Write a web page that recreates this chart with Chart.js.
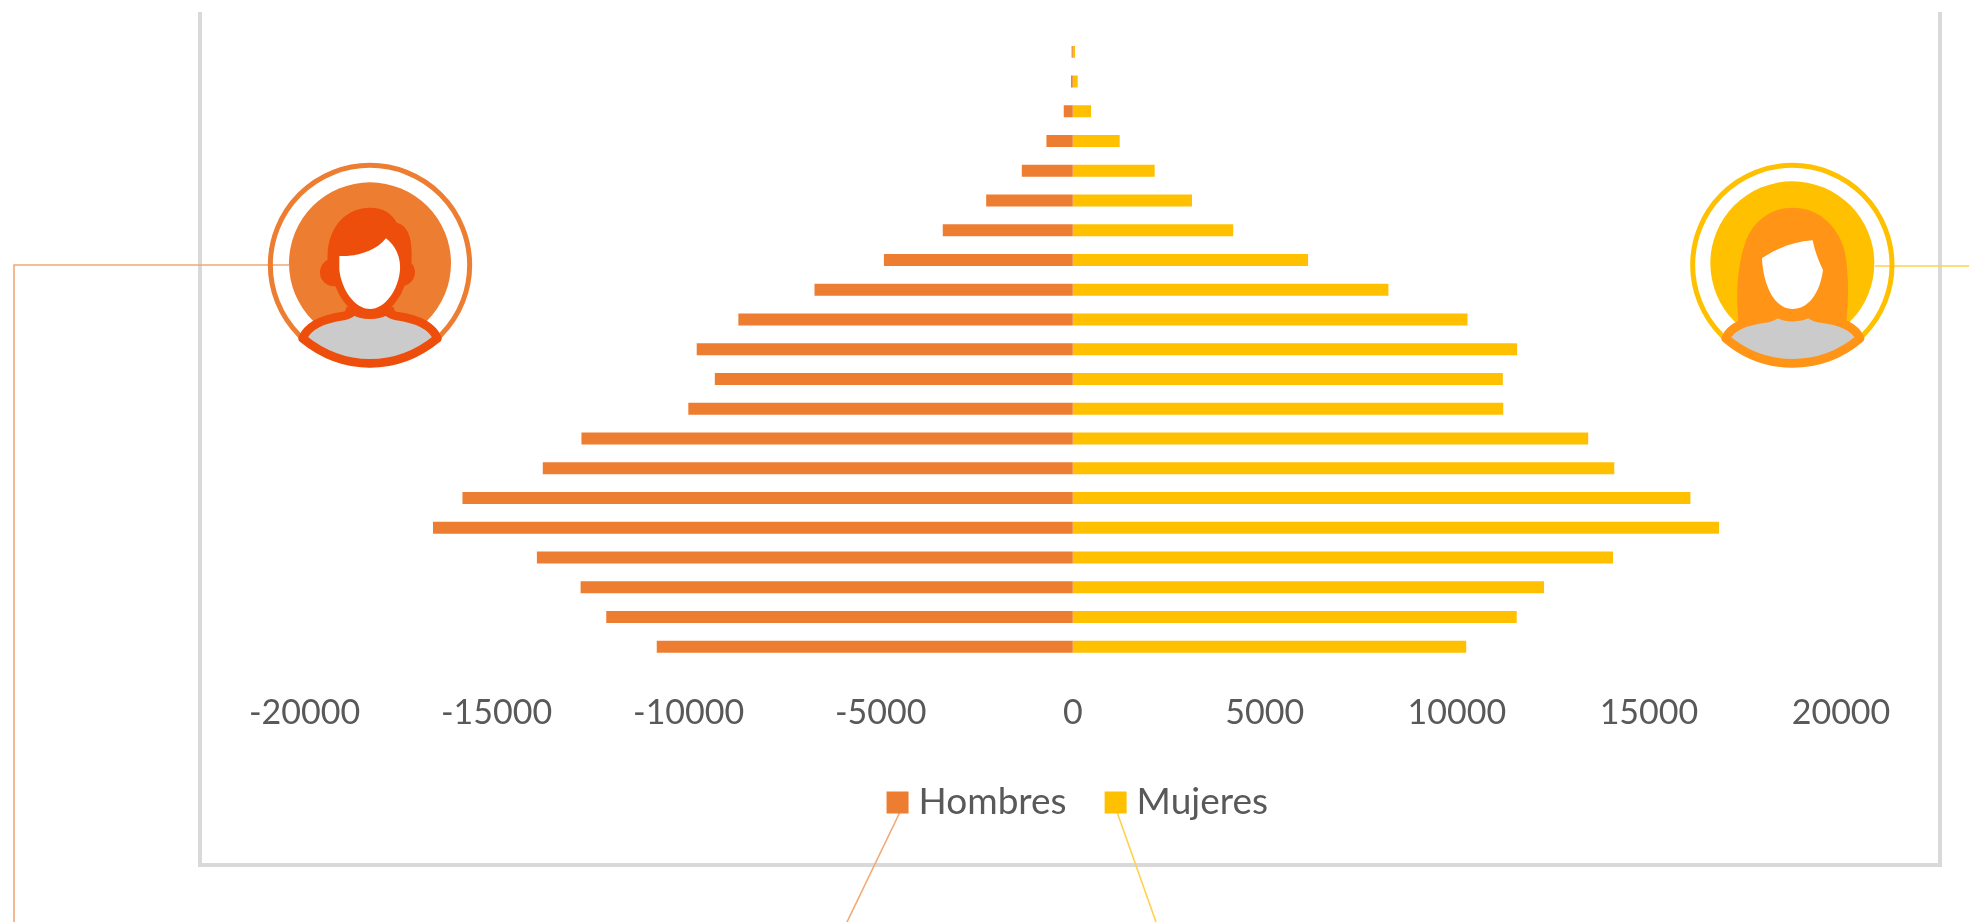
<!DOCTYPE html>
<html lang="es">
<head>
<meta charset="utf-8">
<title>Pirámide de población</title>
<script src="https://cdn.jsdelivr.net/npm/chart.js@4/dist/chart.umd.min.js"></script>
<style>
html,body{margin:0;padding:0;background:#fff;overflow:hidden}
#wrap{position:relative;width:1969px;height:922px}
#deco{position:absolute;left:0;top:0}
#c{position:absolute;left:0;top:0}
</style>
</head>
<body>
<div id="wrap">
<svg id="deco" width="1969" height="922" viewBox="0 0 1969 922" fill="none">
  <path d="M200 12V865H1940V12" stroke="#D9D9D9" stroke-width="4"/>
  <path d="M14 922V265H289" stroke="#F2A873" stroke-width="1.6"/>
  <path d="M1875 266H1969" stroke="#FFD14D" stroke-width="1.6"/>
  <path d="M900 812L847 922" stroke="#F2A873" stroke-width="1.6"/>
  <path d="M1117 812L1156 922" stroke="#FFD14D" stroke-width="1.6"/>
  <svg x="220" y="130" width="300" height="260" viewBox="0 0 900 780">
    <circle cx="450" cy="405" r="299" stroke="#ED7D31" stroke-width="15"/>
    <circle cx="450" cy="400" r="243" fill="#ED7D31"/>
    <circle cx="342" cy="427" r="42" fill="#EE4E0C"/>
    <circle cx="544" cy="427" r="41" fill="#EE4E0C"/>
    <path d="M323 400C316 290 380 233 450 233C490 233 516 250 530 278C562 286 580 320 574 400Z" fill="#EE4E0C"/>
    <path d="M358 378C420 380 470 360 498 325C530 350 542 385 540 420C535 480 495 537 450 537C405 537 365 480 358 420Z" fill="#fff" stroke="#EE4E0C" stroke-width="46" paint-order="stroke"/>
    <path d="M380 530L372 552L405 552L425 540Z M520 530L528 552L495 552L475 540Z" fill="#EE4E0C"/>
    <path d="M248 625C262 590 300 568 370 558C385 555 395 552 400 542C425 558 475 558 500 542C505 552 515 555 530 558C600 568 638 590 652 625C585 680 520 700 450 700C380 700 315 680 248 625Z" fill="#CBCBCB" stroke="#EE4E0C" stroke-width="26" stroke-linejoin="round"/>
  </svg>
  <svg x="1660" y="130" width="309" height="260" viewBox="0 0 927 780">
    <circle cx="397" cy="405" r="299" stroke="#FFC000" stroke-width="15"/>
    <circle cx="397" cy="400" r="246" fill="#FFC000"/>
    <path d="M236 580C225 480 235 380 265 315C295 260 345 233 397 233C470 233 530 280 553 360C565 410 568 500 558 585Z" fill="#FF9416"/>
    <path d="M306 385C350 355 400 335 458 331C465 365 475 390 489 420C480 490 445 537 397 537C345 537 310 470 306 385Z" fill="#fff"/>
    <path d="M352 530C370 568 425 568 445 530L460 560L335 560Z" fill="#FF9416"/>
    <path d="M197 625C212 590 250 575 320 565C335 562 345 558 349 548C375 566 420 566 448 548C452 558 462 562 478 565C548 575 585 590 600 625C535 680 467 700 397 700C327 700 262 680 197 625Z" fill="#CBCBCB" stroke="#FF9416" stroke-width="26" stroke-linejoin="round"/>
  </svg>
</svg>
<canvas id="c" width="1969" height="922"></canvas>
</div>
<script>
const categories = ["100+","95-99","90-94","85-89","80-84","75-79","70-74","65-69","60-64","55-59","50-54","45-49","40-44","35-39","30-34","25-29","20-24","15-19","10-14","5-9","0-4"];
const hombres = [-30,-45,-234,-685,-1326,-2254,-3384,-4917,-6723,-8705,-9789,-9318,-10008,-12790,-13797,-15888,-16655,-13950,-12812,-12144,-10830];
const mujeres = [60,130,477,1222,2133,3104,4177,6126,8218,10277,11569,11196,11207,13419,14098,16080,16825,14065,12270,11558,10243];
const tickValues = [-20000,-15000,-10000,-5000,0,5000,10000,15000,20000];
const seriesNames = ["Hombres","Mujeres"];
const seriesColors = ["#ED7D31","#FFC000"];
const textColor = "#595959";
const fontFamily = "Lato";

new Chart(document.getElementById("c"), {
  type: "bar",
  data: {
    labels: categories,
    datasets: [
      {label: seriesNames[0], data: hombres, backgroundColor: seriesColors[0], barPercentage: 0.403, categoryPercentage: 1},
      {label: seriesNames[1], data: mujeres, backgroundColor: seriesColors[1], barPercentage: 0.403, categoryPercentage: 1}
    ]
  },
  options: {
    indexAxis: "y",
    responsive: false,
    animation: false,
    layout: {padding: {left: 304.5, right: 110.5, top: 37, bottom: 91}},
    plugins: {
      tooltip: {enabled: false},
      legend: {
        position: "bottom",
        labels: {
          color: textColor,
          font: {family: fontFamily, size: 37},
          boxWidth: 5,
          boxHeight: 5,
          padding: 46.5,
          generateLabels: chart => chart.data.datasets.map((d, i) => ({
            text: d.label,
            fontColor: textColor,
            fillStyle: d.backgroundColor,
            strokeStyle: d.backgroundColor,
            lineWidth: 17,
            datasetIndex: i
          }))
        }
      }
    },
    scales: {
      x: {
        stacked: true,
        min: -20000,
        max: 20000,
        afterBuildTicks: s => { s.ticks = tickValues.map(v => ({value: v})); },
        afterFit: s => { s.height = 75.9; },
        grid: {display: false, drawTicks: false},
        border: {display: false},
        ticks: {
          color: textColor,
          font: {family: fontFamily, size: 34},
          padding: 31,
          maxRotation: 0,
          autoSkip: false,
          callback: v => String(v)
        }
      },
      y: {
        stacked: true,
        position: "right",
        afterFit: s => { s.width = 17.5; },
        grid: {display: false, drawTicks: false},
        border: {display: false},
        ticks: {display: false}
      }
    }
  }
});
</script>
</body>
</html>
